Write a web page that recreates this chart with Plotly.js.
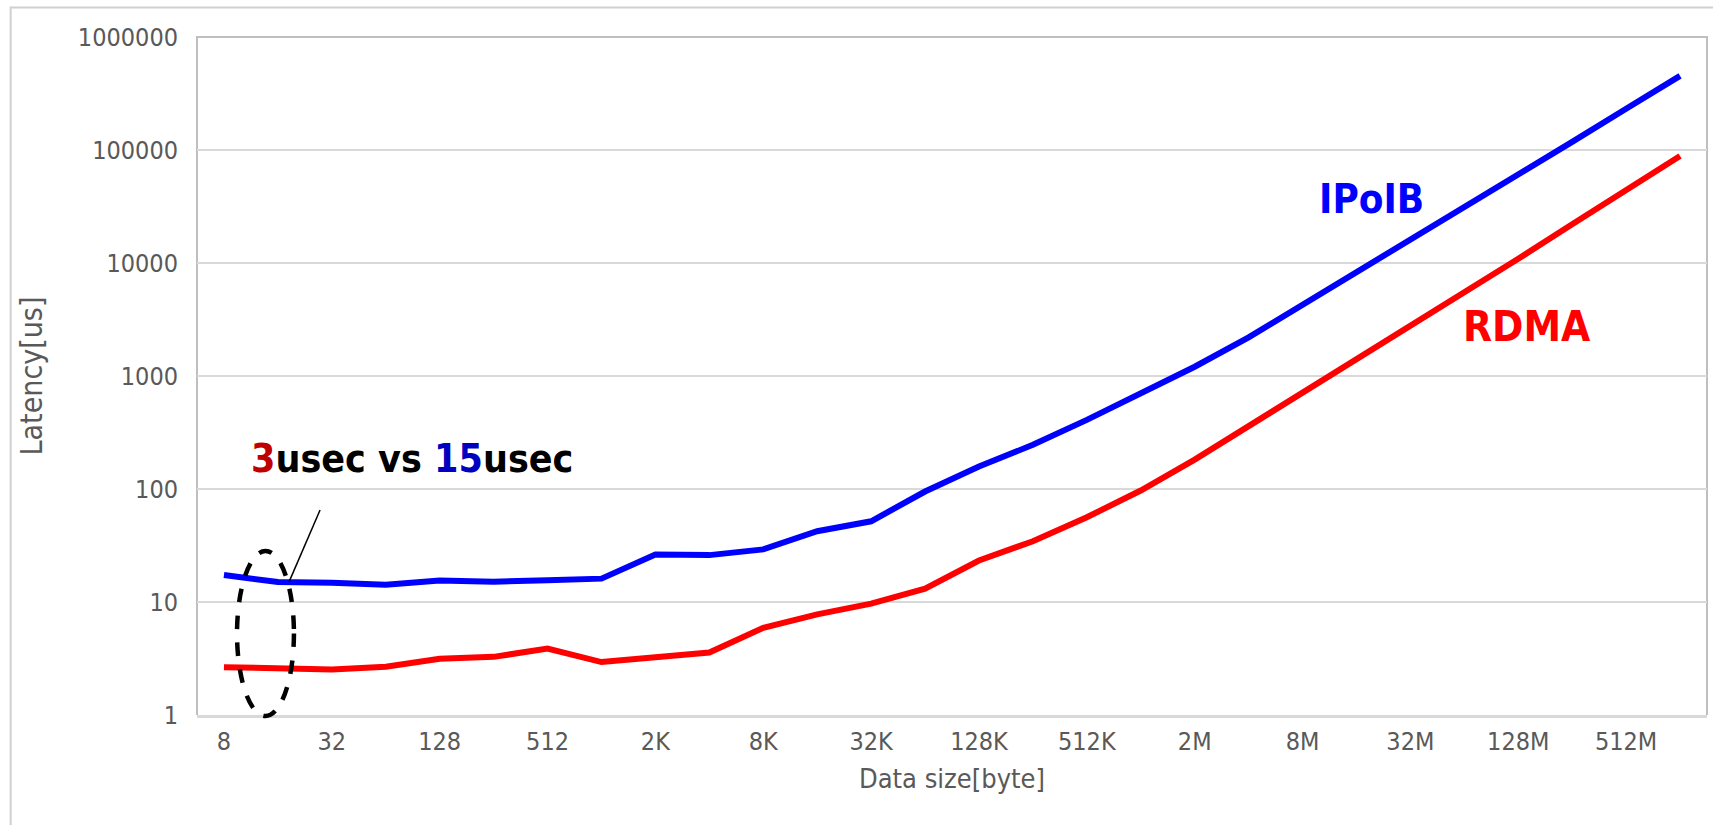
<!DOCTYPE html>
<html>
<head>
<meta charset="utf-8">
<script src="https://cdn.plot.ly/plotly-3.0.1.min.js"></script>
<style>
  html, body { margin: 0; padding: 0; background: #ffffff; }
  #chart { width: 1713px; height: 825px; }
</style>
</head>
<body>
<div id="chart"></div>
<script>
// Data sizes (bytes) – categories along the x axis
const sizes = ["8","16","32","64","128","256","512","1K","2K","4K","8K","16K","32K","64K",
               "128K","256K","512K","1M","2M","4M","8M","16M","32M","64M","128M","256M","512M","1G"];
// Tick labels shown on the x axis
const xTickLabels = ["8","32","128","512","2K","8K","32K","128K","512K","2M","8M","32M","128M","512M"];
// Latency [us]
const ipoib = [17.3, 15.0, 14.8, 14.2, 15.5, 15.1, 15.6, 16.1, 26.3, 26.0, 29.2, 42.3, 51.8, 95,
               158, 246, 409, 703, 1208, 2200, 4250, 8200, 15900, 31500, 61000, 118000, 232000, 453000];
const rdma  = [2.65, 2.55, 2.53, 2.67, 3.14, 3.27, 3.87, 2.94, 3.25, 3.57, 5.9, 7.78, 9.67, 13.1,
               23.3, 34.5, 56.2, 97, 182, 360, 690, 1360, 2700, 5400, 10900, 22000, 44000, 88600];
// y tick values / labels
const yTickVals = [1, 10, 100, 1000, 10000, 100000, 1000000];
const yTickText = ["1","10","100","1000","10000","100000","1000000"];

const FONT = "'DejaVu Sans Condensed', 'Liberation Sans Narrow', sans-serif";

const traces = [
  { x: sizes, y: ipoib, type: "scatter", mode: "lines", name: "IPoIB",
    line: { color: "#0000ff", width: 6 }, hoverinfo: "x+y" },
  { x: sizes, y: rdma, type: "scatter", mode: "lines", name: "RDMA",
    line: { color: "#ff0000", width: 6 }, hoverinfo: "x+y" }
];

const layout = {
  width: 1713, height: 825,
  margin: { l: 197, r: 6, t: 37, b: 110 },
  paper_bgcolor: "#ffffff",
  plot_bgcolor: "#ffffff",
  showlegend: false,
  font: { family: FONT, color: "#595959", size: 25 },
  xaxis: {
    type: "category",
    range: [-0.5, 27.5],
    tickmode: "array",
    tickvals: xTickLabels,
    ticktext: xTickLabels,
    showgrid: false,
    zeroline: false,
    showline: true, linecolor: "#d9d9d9", linewidth: 3,
    ticks: "", ticklabelstandoff: 2,
    tickfont: { family: FONT, size: 25, color: "#595959" },
    title: { text: "Data size[byte]", font: { family: FONT, size: 27, color: "#595959" }, standoff: 15 },
    automargin: false
  },
  yaxis: {
    type: "log",
    range: [0, 6],
    tickmode: "array",
    tickvals: yTickVals,
    ticktext: yTickText,
    showgrid: true, gridcolor: "#d9d9d9", gridwidth: 1.5,
    zeroline: false,
    showline: false,
    ticks: "", ticklabelstandoff: 18,
    tickfont: { family: FONT, size: 25, color: "#595959" },
    title: { text: "Latency[us]", font: { family: FONT, size: 30, color: "#595959" }, standoff: 26 },
    automargin: false
  },
  shapes: [
    // outer chart border
    { type: "rect", xref: "paper", yref: "paper", x0: -0.1234, x1: 1.1, y0: -0.3, y1: 1.0435,
      line: { color: "#d0d0d0", width: 2 }, fillcolor: "rgba(0,0,0,0)", layer: "below" },
    // plot area border (left, top, right)
    { type: "path", xref: "paper", yref: "paper", path: "M0,0 L0,1 L1,1 L1,0",
      line: { color: "#bfbfbf", width: 2 }, layer: "below" },
    // dashed ellipse highlighting the small-size latency
    { type: "circle", xref: "paper", yref: "paper", x0: 0.0265, x1: 0.0642, y0: -0.0015, y1: 0.2419,
      line: { color: "#000000", width: 4.5, dash: "dash" }, fillcolor: "rgba(0,0,0,0)", layer: "above" },
    // leader line
    { type: "line", xref: "paper", yref: "paper", x0: 0.0609, y0: 0.196, x1: 0.0815, y1: 0.3024,
      line: { color: "#000000", width: 1.5 }, layer: "above" }
  ],
  annotations: [
    { xref: "paper", yref: "paper", x: 0.1424, y: 0.3776, xanchor: "center", yanchor: "middle",
      showarrow: false,
      text: "<b><span style='color:#c00000'>3</span>usec vs <span style='color:#0000c0'>15</span>usec</b>",
      font: { family: FONT, size: 39, color: "#000000" } },
    { xref: "paper", yref: "paper", x: 0.778, y: 0.761, xanchor: "center", yanchor: "middle",
      showarrow: false, text: "<b>IPoIB</b>",
      font: { family: FONT, size: 40, color: "#0000ff" } },
    { xref: "paper", yref: "paper", x: 0.8808, y: 0.5737, xanchor: "center", yanchor: "middle",
      showarrow: false, text: "<b>RDMA</b>",
      font: { family: FONT, size: 42, color: "#ff0000" } }
  ]
};

Plotly.newPlot("chart", traces, layout, { displayModeBar: false, staticPlot: true });
</script>
</body>
</html>
